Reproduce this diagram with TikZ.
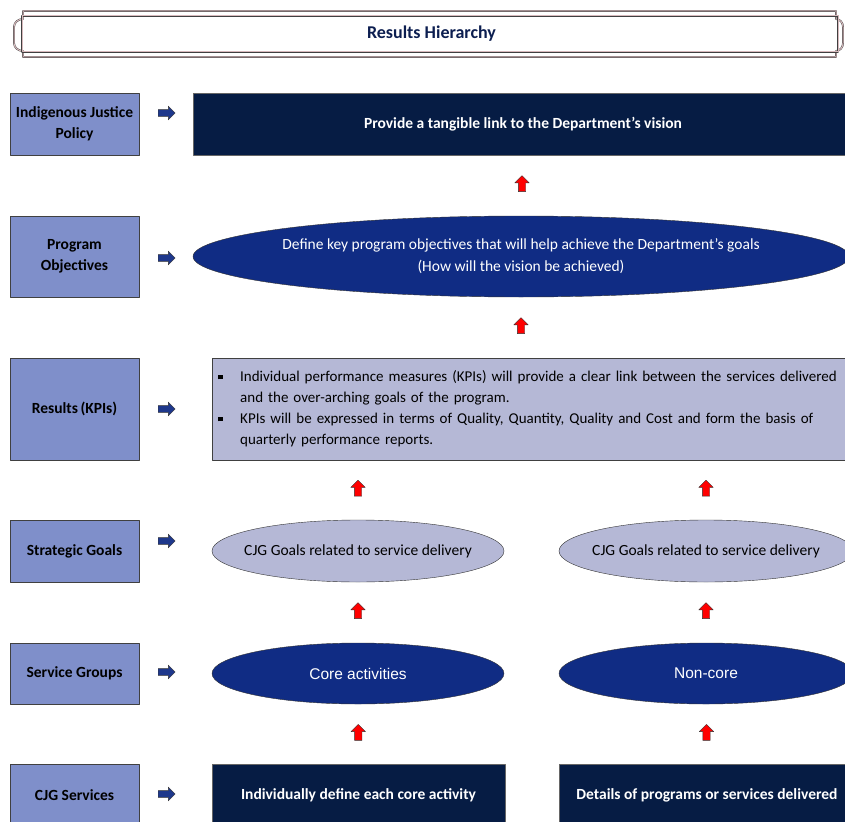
\documentclass[tikz,border=0pt]{standalone}
\usepackage{fontspec}
\setmainfont{Carlito}
\newfontfamily\arialfont{Liberation Sans}
\usetikzlibrary{shapes.geometric,shapes.arrows,calc}
\definecolor{lvlblue}{RGB}{127,143,202}
\definecolor{navy}{RGB}{6,28,68}
\definecolor{ellblue}{RGB}{16,44,132}
\definecolor{lilac}{RGB}{181,184,214}
\definecolor{arrblue}{RGB}{30,56,140}
\definecolor{titlecol}{RGB}{12,30,80}
\definecolor{framepink}{RGB}{215,185,188}
\tikzset{
	lvl/.style={draw=black!75,fill=lvlblue,minimum width=129pt,align=center,
		font=\bfseries\fontsize{15.5}{21}\selectfont,inner sep=0pt},
	navybox/.style={draw=black!60,fill=navy,text=white,inner sep=0pt,
		font=\bfseries\fontsize{15.5}{19}\selectfont},
	darkell/.style={ellipse,draw=black!80,fill=ellblue,text=white,inner sep=0pt},
	lightell/.style={ellipse,draw=black!80,fill=lilac,inner sep=0pt,font=\fontsize{15.5}{19}\selectfont},
	rarr/.style={single arrow,draw=black!80,fill=arrblue,inner sep=3.2pt,minimum height=17pt,
		single arrow head extend=3.5pt,single arrow head indent=0pt},
	uarr/.style={single arrow,shape border rotate=90,draw=black!80,fill=red,inner sep=3.5pt,
		minimum height=16pt,single arrow head extend=3.5pt,single arrow head indent=0pt},
	fline/.style={draw=black!75,double=framepink,double distance=1pt},
}
\newcommand{\sqbullet}{\makebox[22pt][l]{\rule[2.5pt]{4.5pt}{4.5pt}}}
\newcommand{\hangin}{\hspace*{22pt}}
\newcommand{\zw}[1]{\makebox[0pt]{#1}}
\begin{document}
\begin{tikzpicture}[x=1pt,y=-1pt,line join=round]
	\useasboundingbox (0,0) rectangle (845,821);
	\clip (0,0) rectangle (845,821);
	% title frame
	\draw[fline] (23,11) -- (836,11) -- (836,19) to[out=0,in=90] (843,27) -- (843,43)
		to[out=-90,in=0] (836,51) -- (836,57) -- (23,57) -- (23,51) to[out=180,in=-90] (14,43)
		-- (14,27) to[out=90,in=180] (23,19) -- cycle;
	\draw[fline] (22,16) rectangle (838,52);
	\node[font=\bfseries\fontsize{18}{21}\selectfont,text=titlecol] (ttl) at (431.5,34) {Results Hierarchy};
	% levels on the left
	\foreach \n/\y/\h/\t in {pol/124/62/{Indigenous Justice\\Policy},obj/256.5/81/{Program\\Objectives},
		kpi/409/102/{Results\,(KPIs)},stg/551/62/{Strategic Goals},grp/673.5/61/{Service Groups},
		svc/795/62/{CJG Services}}
	\node[lvl,minimum height=\h pt] (\n) at (74.5,\y) {\t};
	\foreach \n/\y in {pol/113,obj/258,kpi/409,stg/541,grp/672,svc/794}
	\node[rarr] (a\n) at (165,\y) {};
	% hierarchy
	\node[navybox,minimum width=660pt,minimum height=62pt] (vis) at (523,124)
		{Provide a tangible link to the Department’s vision};
	\node[darkell,minimum width=656pt,minimum height=81pt,align=center,
		font=\fontsize{15.5}{22}\selectfont] (goals) at (521,256.5)
		{\zw{Define key program objectives that will help achieve the Department’s goals}\\\zw{(How will the vision be achieved)}};
	\node[draw=black!75,fill=lilac,anchor=west,minimum height=102pt,
		text width=700pt,inner xsep=6pt,align=left,font=\fontsize{15}{21}\selectfont] (kpis) at (212,409)
		{\mbox{\sqbullet Individual performance measures (KPIs) will provide a clear link between the services delivered}\\
		\mbox{\hangin and the over-arching goals of the program.}\\
		\mbox{\sqbullet KPIs will be expressed in terms of Quality, Quantity, Quality and Cost and form the basis of}\\
		\mbox{\hangin quarterly performance reports.}};
	\node[lightell,minimum width=292pt,minimum height=62pt] (gA) at (358,551) {\zw{CJG Goals related to service delivery}};
	\node[lightell,minimum width=294pt,minimum height=62pt] (gB) at (706,551) {\zw{CJG Goals related to service delivery}};
	\node[darkell,minimum width=292pt,minimum height=61pt,font=\arialfont\fontsize{15.5}{18}\selectfont] (cA) at (358,673.5) {Core activities};
	\node[darkell,minimum width=294pt,minimum height=61pt,font=\arialfont\fontsize{15.5}{18}\selectfont] (cB) at (706,673.5) {Non-core};
	\node[navybox,minimum width=293pt,minimum height=62pt] (dA) at (358.5,795.5) {Individually define each core activity};
	\node[navybox,minimum width=296pt,minimum height=62pt] (dB) at (707,795.5) {Details of programs or services delivered};
	% red arrows
	\node[uarr] (u1) at ($(vis.south)!0.5!(goals.north)$) {};
	\node[uarr] (u2) at ($(goals.south)!0.5!(goals.south|-kpis.north)$) {};
	\foreach \s in {A,B}{
		\node[uarr] (k\s) at ($(g\s.north)!0.5!(g\s.north|-kpis.south)$) {};
		\node[uarr] (m\s) at ($(c\s.north)!0.5!(g\s.south)$) {};
		\node[uarr] (b\s) at ($(d\s.north)!0.5!(c\s.south)$) {};
	}
\end{tikzpicture}
\end{document}
